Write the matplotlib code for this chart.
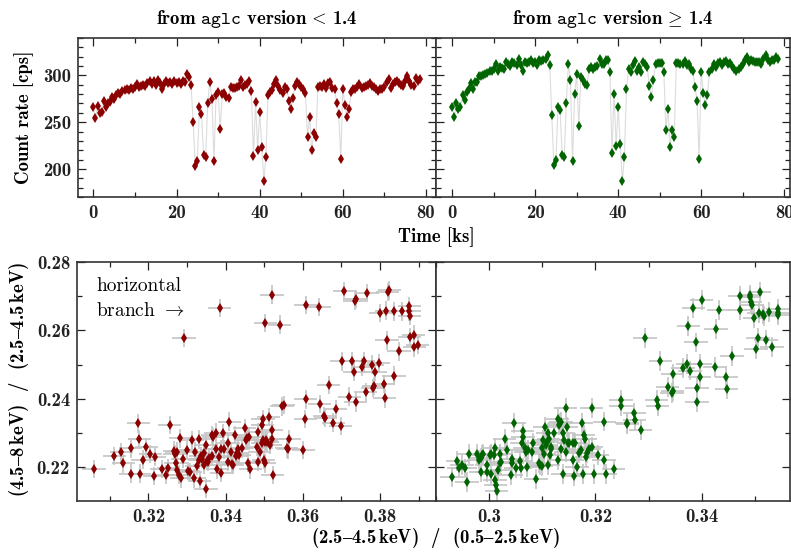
import matplotlib
matplotlib.use("Agg")
import matplotlib.pyplot as plt
from matplotlib.ticker import MultipleLocator, FormatStrFormatter

# fuentes tipo LaTeX (Computer Modern) con respaldo
plt.rcParams["font.family"] = ["cmb10", "DejaVu Serif"]
plt.rcParams["mathtext.fontset"] = "cm"
plt.rcParams["axes.unicode_minus"] = False

# ---- curvas de luz (tiempo en ks, tasa en cps) ----
time_ks = [0.0, 0.5, 1.0, 1.5, 2.0, 2.5, 3.0, 3.5, 4.0, 4.5,
           5.0, 5.5, 6.0, 6.5, 7.0, 7.5, 8.0, 8.5, 9.0, 9.5,
           10.0, 10.5, 11.0, 11.5, 12.0, 12.5, 13.0, 13.5, 14.0, 14.5,
           15.0, 15.5, 16.0, 16.5, 17.0, 17.5, 18.0, 18.5, 19.0, 19.5,
           20.0, 20.5, 21.0, 21.5, 22.0, 22.5, 23.0, 23.5, 24.0, 24.5,
           25.0, 25.5, 26.0, 26.5, 27.0, 27.5, 28.0, 28.5, 29.0, 29.5,
           30.0, 30.5, 31.0, 31.5, 32.0, 32.5, 33.0, 33.5, 34.0, 34.5,
           35.0, 35.5, 36.0, 36.5, 37.0, 37.5, 38.0, 38.5, 39.0, 39.5,
           40.0, 40.5, 41.0, 41.5, 42.0, 42.5, 43.0, 43.5, 44.0, 44.5,
           45.0, 45.5, 46.0, 46.5, 47.0, 47.5, 48.0, 48.5, 49.0, 49.5,
           50.0, 50.5, 51.0, 51.5, 52.0, 52.5, 53.0, 53.5, 54.0, 54.5,
           55.0, 55.5, 56.0, 56.5, 57.0, 57.5, 58.0, 58.5, 59.0, 59.5,
           60.0, 60.5, 61.0, 61.5, 62.0, 62.5, 63.0, 63.5, 64.0, 64.5,
           65.0, 65.5, 66.0, 66.5, 67.0, 67.5, 68.0, 68.5, 69.0, 69.5,
           70.0, 70.5, 71.0, 71.5, 72.0, 72.5, 73.0, 73.5, 74.0, 74.5,
           75.0, 75.5, 76.0, 76.5, 77.0, 77.5, 78.0, 78.5]

rate_old = [266, 254, 267, 260, 261, 273, 266, 270, 272, 277,
            275, 279, 281, 280, 283, 284, 285, 284, 287, 286,
            288, 291, 288, 289, 290, 289, 292, 294, 291, 294,
            290, 295, 292, 286, 291, 294, 292, 293, 291, 294,
            292, 293, 291, 294, 293, 301, 298, 290, 250, 203,
            209, 266, 259, 215, 213, 271, 293, 275, 208, 279,
            282, 243, 280, 281, 277, 276, 288, 287, 287, 288,
            289, 295, 288, 290, 291, 294, 283, 214, 272, 220,
            261, 223, 187, 213, 279, 282, 284, 291, 295, 289,
            284, 281, 288, 286, 273, 264, 276, 289, 293, 291,
            288, 286, 281, 234, 256, 220, 238, 234, 288, 289,
            288, 291, 287, 292, 293, 287, 285, 271, 259, 211,
            286, 268, 256, 264, 282, 285, 286, 288, 291, 287,
            288, 289, 290, 292, 289, 288, 286, 283, 285, 286,
            288, 293, 296, 287, 291, 293, 294, 292, 290, 289,
            294, 299, 294, 290, 289, 297, 294, 296]

rate_new = [266, 255, 271, 264, 266, 279, 274, 282, 286, 292,
            286, 293, 293, 299, 299, 300, 301, 303, 305, 305,
            307, 312, 305, 309, 308, 307, 314, 312, 310, 314,
            313, 311, 318, 311, 305, 314, 313, 314, 316, 313,
            314, 311, 317, 315, 317, 318, 322, 311, 258, 204,
            210, 266, 263, 215, 213, 271, 312, 295, 208, 280,
            301, 246, 298, 295, 291, 290, 307, 309, 307, 309,
            310, 318, 312, 312, 316, 317, 304, 217, 280, 225,
            266, 227, 187, 213, 286, 307, 304, 311, 315, 305,
            309, 304, 314, 312, 309, 289, 277, 295, 312, 313,
            313, 313, 304, 242, 264, 223, 242, 234, 313, 313,
            312, 312, 315, 311, 312, 307, 305, 288, 273, 211,
            304, 281, 268, 279, 304, 307, 312, 309, 313, 314,
            311, 314, 315, 312, 313, 310, 307, 305, 307, 309,
            312, 316, 320, 314, 316, 315, 314, 314, 314, 312,
            318, 322, 316, 314, 317, 317, 320, 318]

# ---- diagramas color-color ----
soft_old = [0.3059, 0.3112, 0.3130, 0.3135, 0.3154, 0.3154, 0.3174, 0.3176, 0.3177, 0.3186,
            0.3194, 0.3205, 0.3215, 0.3216, 0.3235, 0.3246, 0.3252, 0.3255, 0.3267, 0.3269,
            0.3271, 0.3273, 0.3274, 0.3278, 0.3283, 0.3285, 0.3289, 0.3299, 0.3303, 0.3308,
            0.3313, 0.3319, 0.3320, 0.3325, 0.3331, 0.3332, 0.3333, 0.3335, 0.3339, 0.3344,
            0.3345, 0.3349, 0.3350, 0.3352, 0.3354, 0.3358, 0.3364, 0.3366, 0.3368, 0.3375,
            0.3376, 0.3378, 0.3384, 0.3387, 0.3389, 0.3392, 0.3396, 0.3406, 0.3407, 0.3410,
            0.3413, 0.3416, 0.3418, 0.3424, 0.3427, 0.3430, 0.3433, 0.3435, 0.3443, 0.3449,
            0.3452, 0.3455, 0.3458, 0.3461, 0.3464, 0.3482, 0.3485, 0.3485, 0.3488, 0.3495,
            0.3495, 0.3497, 0.3498, 0.3499, 0.3501, 0.3503, 0.3505, 0.3508, 0.3512, 0.3515,
            0.3519, 0.3521, 0.3522,
            0.3292, 0.3385, 0.3503, 0.3520, 0.3540, 0.3608, 0.3642, 0.3707, 0.3734, 0.3739,
            0.3767, 0.3801, 0.3816, 0.3820, 0.3824, 0.3836, 0.3857, 0.3876, 0.3876, 0.3877,
            0.3818, 0.3877, 0.3887, 0.3889, 0.3898, 0.3849,
            0.3701, 0.3727, 0.3733, 0.3754, 0.3758, 0.3780, 0.3788, 0.3797, 0.3836, 0.3810,
            0.3784, 0.3782, 0.3763, 0.3812, 0.3720, 0.3737, 0.3667, 0.3608, 0.3644, 0.3685,
            0.3656, 0.3658, 0.3679, 0.3698, 0.3606, 0.3546, 0.3550, 0.3558, 0.3562, 0.3564,
            0.3601]
hard_old = [0.2195, 0.2234, 0.2244, 0.2212, 0.2256, 0.2182, 0.2329, 0.2283, 0.2182, 0.2223,
            0.2259, 0.2239, 0.2175, 0.2231, 0.2195, 0.2179, 0.2199, 0.2324, 0.2249, 0.2239,
            0.2212, 0.2246, 0.2192, 0.2179, 0.2285, 0.2168, 0.2226, 0.2251, 0.2189, 0.2187,
            0.2280, 0.2168, 0.2246, 0.2204, 0.2282, 0.2221, 0.2161, 0.2233, 0.2226, 0.2241,
            0.2207, 0.2138, 0.2267, 0.2219, 0.2217, 0.2229, 0.2233, 0.2295, 0.2288, 0.2302,
            0.2253, 0.2194, 0.2231, 0.2253, 0.2184, 0.2300, 0.2253, 0.2272, 0.2217, 0.2334,
            0.2244, 0.2210, 0.2207, 0.2295, 0.2233, 0.2241, 0.2253, 0.2236, 0.2256, 0.2314,
            0.2280, 0.2285, 0.2214, 0.2290, 0.2194, 0.2259, 0.2304, 0.2217, 0.2246, 0.2324,
            0.2272, 0.2341, 0.2280, 0.2223, 0.2212, 0.2275, 0.2280, 0.2275, 0.2347, 0.2265,
            0.2309, 0.2282, 0.2178,
            0.2578, 0.2666, 0.2622, 0.2705, 0.2617, 0.2674, 0.2669, 0.2715, 0.2686, 0.2692,
            0.2710, 0.2651, 0.2658, 0.2712, 0.2717, 0.2656, 0.2656, 0.2671, 0.2656, 0.2642,
            0.2571, 0.2581, 0.2588, 0.2551, 0.2557, 0.2539,
            0.2510, 0.2510, 0.2480, 0.2493, 0.2510, 0.2500, 0.2480, 0.2505, 0.2468, 0.2444,
            0.2438, 0.2432, 0.2419, 0.2402, 0.2407, 0.2390, 0.2441, 0.2399, 0.2386, 0.2370,
            0.2350, 0.2344, 0.2331, 0.2321, 0.2342, 0.2378, 0.2383, 0.2256, 0.2253, 0.2282,
            0.2251]

soft_new = [0.2930, 0.2940, 0.2943, 0.2949, 0.2955, 0.2958, 0.2962, 0.2977, 0.2981, 0.2984,
            0.2984, 0.2987, 0.2989, 0.2996, 0.2996, 0.3001, 0.3003, 0.3004, 0.3009, 0.3011,
            0.3011, 0.3012, 0.3014, 0.3017, 0.3020, 0.3021, 0.3023, 0.3029, 0.3034, 0.3041,
            0.3043, 0.3043, 0.3047, 0.3050, 0.3058, 0.3059, 0.3062, 0.3063, 0.3064, 0.3067,
            0.3069, 0.3072, 0.3074, 0.3080, 0.3082, 0.3088, 0.3093, 0.3095, 0.3099, 0.3100,
            0.3102, 0.3104, 0.3105, 0.3107, 0.3109, 0.3111, 0.3111, 0.3112, 0.3114, 0.3116,
            0.3117, 0.3122, 0.3129, 0.3130, 0.3131, 0.3133, 0.3135, 0.3136, 0.3138, 0.3139,
            0.3141, 0.3144, 0.3144, 0.3146, 0.3149, 0.3151, 0.3157, 0.3158, 0.3159, 0.3162,
            0.3165, 0.3169, 0.3172, 0.3174, 0.3176, 0.3178, 0.3180, 0.3183, 0.3185, 0.3188,
            0.3193, 0.3193, 0.3198, 0.3204, 0.3216, 0.3217, 0.3219, 0.3234,
            0.3248, 0.3248, 0.3259, 0.3260, 0.3273, 0.3274, 0.3285, 0.3293, 0.3315, 0.3317,
            0.3322, 0.3336, 0.3344, 0.3345, 0.3345, 0.3365, 0.3373, 0.3375, 0.3378, 0.3384,
            0.3389, 0.3391, 0.3391, 0.3396, 0.3397, 0.3400, 0.3425, 0.3427, 0.3432, 0.3446,
            0.3447, 0.3457,
            0.3472, 0.3472, 0.3490, 0.3491, 0.3492, 0.3495, 0.3499, 0.3502, 0.3506, 0.3507,
            0.3509, 0.3515, 0.3518, 0.3521, 0.3527, 0.3532, 0.3543, 0.3543, 0.3544]
hard_new = [0.2171, 0.2220, 0.2197, 0.2207, 0.2197, 0.2158, 0.2239, 0.2239, 0.2221, 0.2229,
            0.2187, 0.2236, 0.2239, 0.2207, 0.2187, 0.2236, 0.2180, 0.2239, 0.2236, 0.2163,
            0.2256, 0.2148, 0.2132, 0.2192, 0.2212, 0.2239, 0.2217, 0.2282, 0.2251, 0.2178,
            0.2226, 0.2212, 0.2329, 0.2197, 0.2220, 0.2197, 0.2270, 0.2305, 0.2290, 0.2256,
            0.2246, 0.2200, 0.2251, 0.2246, 0.2272, 0.2165, 0.2212, 0.2207, 0.2204, 0.2256,
            0.2280, 0.2239, 0.2317, 0.2266, 0.2275, 0.2300, 0.2207, 0.2282, 0.2236, 0.2261,
            0.2253, 0.2300, 0.2341, 0.2221, 0.2324, 0.2329, 0.2334, 0.2253, 0.2180, 0.2302,
            0.2280, 0.2246, 0.2373, 0.2317, 0.2272, 0.2270, 0.2223, 0.2270, 0.2175, 0.2272,
            0.2200, 0.2241, 0.2251, 0.2331, 0.2180, 0.2295, 0.2282, 0.2231, 0.2243, 0.2253,
            0.2261, 0.2373, 0.2180, 0.2236, 0.2223, 0.2334, 0.2182, 0.2195,
            0.2397, 0.2380, 0.2331, 0.2327, 0.2360, 0.2339, 0.2309, 0.2578, 0.2397, 0.2380,
            0.2510, 0.2434, 0.2417, 0.2474, 0.2422, 0.2490, 0.2503, 0.2614, 0.2483, 0.2666,
            0.2565, 0.2392, 0.2432, 0.2463, 0.2503, 0.2688, 0.2493, 0.2604, 0.2661, 0.2463,
            0.2429, 0.2526,
            0.2700, 0.2659, 0.2698, 0.2705, 0.2683, 0.2673, 0.2637, 0.2546, 0.2578, 0.2651,
            0.2712, 0.2649, 0.2642, 0.2573, 0.2653, 0.2552, 0.2644, 0.2663, 0.2651]

# errores tipicos (iguales para todos los puntos)
soft_err_old, hard_err_old = 0.0030, 0.0027
soft_err_new, hard_err_new = 0.0022, 0.0029

red = "#8b0000"
green = "#006400"
FS = 13.5

fig = plt.figure(figsize=(7.91, 5.52), dpi=100)
W, H = 791.0, 552.0

def box(x0, y0, x1, y1):
    # caja en pixeles (origen arriba a la izquierda)
    return [x0 / W, 1 - y1 / H, (x1 - x0) / W, (y1 - y0) / H]

ax_lc1 = fig.add_axes(box(78, 38, 436, 197))
ax_lc2 = fig.add_axes(box(436, 38, 790, 197))
ax_cc1 = fig.add_axes(box(77, 262, 436, 501))
ax_cc2 = fig.add_axes(box(436, 262, 790, 501))

def style(ax):
    ax.tick_params(which="both", direction="in", top=True, right=True,
                   labelsize=FS, width=0.9, colors="#222222")
    ax.tick_params(which="major", length=6, pad=5)
    ax.tick_params(which="minor", length=3.5)
    for s in ax.spines.values():
        s.set_linewidth(1.2)
        s.set_color("#333333")

# curvas de luz
for ax, rate, col in [(ax_lc1, rate_old, red), (ax_lc2, rate_new, green)]:
    ax.plot(time_ks, rate, "-", color="#dcdcdc", lw=0.8, zorder=1)
    ax.plot(time_ks, rate, "d", color=col, ms=5, mew=0, zorder=2)
    ax.set_xlim(-3.7, 82.4)
    ax.set_ylim(170, 340)
    ax.xaxis.set_major_locator(MultipleLocator(20))
    ax.xaxis.set_minor_locator(MultipleLocator(10))
    ax.yaxis.set_major_locator(MultipleLocator(50))
    ax.yaxis.set_minor_locator(MultipleLocator(10))
    style(ax)
ax_lc2.set_xlim(-3.9, 81.4)
ax_lc2.tick_params(labelleft=False)

ax_lc1.set_title(r"from $\mathtt{aglc}$ version$\,<\,$1.4", fontsize=FS, pad=10)
ax_lc2.set_title(r"from $\mathtt{aglc}$ version$\,\geq\,$1.4", fontsize=FS, pad=10)

# diagramas color-color
for ax, sx, hy, ex, ey, col in [(ax_cc1, soft_old, hard_old, soft_err_old, hard_err_old, red),
                               (ax_cc2, soft_new, hard_new, soft_err_new, hard_err_new, green)]:
    ax.errorbar(sx, hy, xerr=ex, yerr=ey, fmt="none", ecolor="#c4c4c4",
                elinewidth=1.2, capsize=0, zorder=1)
    ax.plot(sx, hy, "d", color=col, ms=5, mew=0, zorder=2)
    ax.set_ylim(0.2102, 0.28)
    ax.xaxis.set_major_locator(MultipleLocator(0.02))
    ax.xaxis.set_minor_locator(MultipleLocator(0.01))
    ax.yaxis.set_major_locator(MultipleLocator(0.02))
    ax.yaxis.set_minor_locator(MultipleLocator(0.01))
    ax.xaxis.set_major_formatter(FormatStrFormatter("%g"))
    ax.yaxis.set_major_formatter(FormatStrFormatter("%g"))
    style(ax)
ax_cc1.set_xlim(0.3015, 0.3945)
ax_cc2.set_xlim(0.29, 0.3566)
ax_cc2.tick_params(labelleft=False)

ax_cc1.text(0.053, 0.935, "horizontal\nbranch $\\rightarrow$", transform=ax_cc1.transAxes,
            family=["cmr10", "DejaVu Serif"], fontsize=14, va="top", ha="left",
            linespacing=1.5)

# etiquetas comunes
dash = "$\u2013$"
fig.text(436 / W, 1 - 237 / H, "Time [ks]", ha="center", va="center", fontsize=FS)
fig.text(24 / W, 1 - 117 / H, "Count rate [cps]", rotation=90, ha="center", va="center",
         fontsize=FS)
fig.text(436 / W, 1 - 538 / H,
         "(2.5" + dash + "4.5$\\,$keV)  /  (0.5" + dash + "2.5$\\,$keV)",
         ha="center", va="center", fontsize=FS)
fig.text(19 / W, 1 - 380 / H,
         "(4.5" + dash + "8$\\,$keV)  /  (2.5" + dash + "4.5$\\,$keV)", rotation=90,
         ha="center", va="center", fontsize=FS)

fig.savefig("out.png", dpi=100)
